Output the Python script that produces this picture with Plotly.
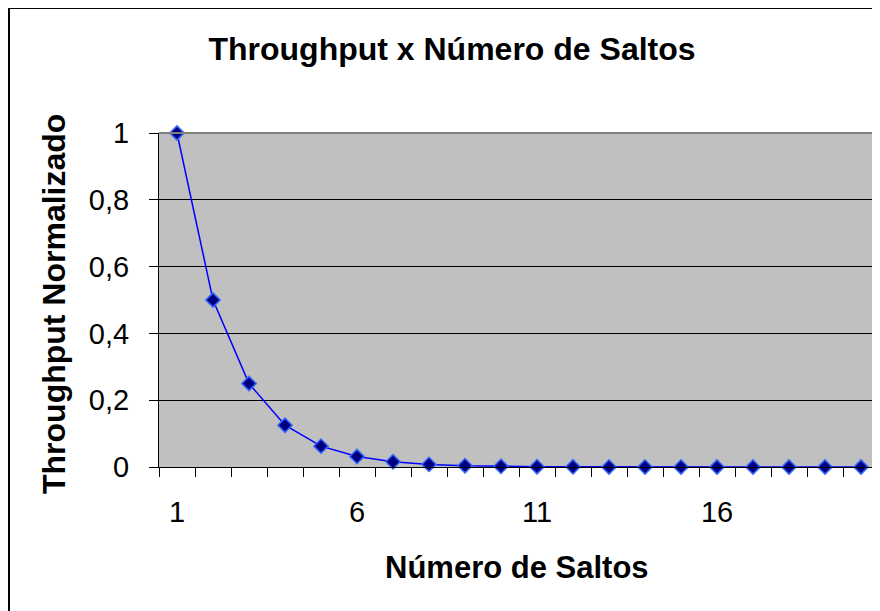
import plotly.graph_objects as go

# dados
saltos = list(range(1, 21))
throughput = [1.0, 0.5, 0.25, 0.125, 0.0625, 0.03125, 0.0156, 0.0078, 0.0039, 0.002,
              0.001, 0.0005, 0.0002, 0.0001, 0.0001, 0.0, 0.0, 0.0, 0.0, 0.0]
x_labels = [1, 6, 11, 16]
y_ticks = [0, 0.2, 0.4, 0.6, 0.8, 1]

# a página tem margem de 8px no body; coordenadas abaixo já descontam isso
W, H = 880, 611
ml, mr, mt, mb = 151, 9, 125, 152
pw, ph = W - ml - mr, H - mt - mb


def px_x(v):
    return (v - ml) / pw


def px_y(v):
    return (H - mb - v) / ph


font = "Liberation Sans, Arial, sans-serif"

fig = go.Figure()
fig.add_trace(go.Scatter(
    x=saltos, y=throughput, mode="lines+markers",
    line=dict(color="#0000FF", width=1.5),
    marker=dict(symbol="diamond", size=11, color="#000080",
                line=dict(color="#3366FF", width=1.5)),
    showlegend=False, cliponaxis=False,
))

bounds = [s - 0.5 for s in saltos] + [saltos[-1] + 0.5]

fig.update_layout(
    width=W, height=H,
    margin=dict(l=ml, r=mr, t=mt, b=mb, autoexpand=False),
    paper_bgcolor="white", plot_bgcolor="#C0C0C0",
    separators=",.",
    font=dict(family=font, color="black", size=29),
    title=dict(text="<b>Throughput x Número de Saltos</b>", font=dict(size=32),
               x=444 / W, xref="container", xanchor="center",
               y=1 - 41 / H, yref="container", yanchor="middle"),
    xaxis=dict(range=[0.5, 20.5], tickvals=x_labels, ticks="", showgrid=False,
               showline=True, linecolor="black", linewidth=1, zeroline=False,
               ticklabelstandoff=19, tickfont=dict(size=29),
               minor=dict(tickvals=bounds, ticks="outside", ticklen=9,
                          tickcolor="black", tickwidth=1, showgrid=False)),
    yaxis=dict(range=[0, 1], tickvals=y_ticks, ticks="outside", ticklen=9,
               tickcolor="black", showgrid=True, gridcolor="black", gridwidth=1,
               showline=True, linecolor="black", linewidth=1, zeroline=False,
               ticklabelstandoff=14, tickfont=dict(size=29)),
    annotations=[
        dict(text="<b>Número de Saltos</b>", xref="paper", yref="paper",
             x=px_x(509), y=px_y(559), showarrow=False, font=dict(size=31),
             xanchor="center", yanchor="middle"),
        dict(text="<b>Throughput Normalizado</b>", xref="paper", yref="paper",
             x=px_x(46), y=px_y(296), showarrow=False, font=dict(size=32),
             textangle=-90, xanchor="center", yanchor="middle"),
    ],
    shapes=[
        # borda do plot (topo e direita)
        dict(type="line", xref="paper", yref="paper", x0=0, x1=1, y0=1, y1=1,
             line=dict(color="#808080", width=2)),
        dict(type="line", xref="paper", yref="paper", x0=1, x1=1, y0=0, y1=1,
             line=dict(color="#808080", width=2)),
        # moldura externa do gráfico
        dict(type="line", xref="paper", yref="paper", x0=px_x(1), x1=px_x(1),
             y0=px_y(0), y1=px_y(H), line=dict(color="black", width=2)),
        dict(type="line", xref="paper", yref="paper", x0=px_x(0), x1=px_x(W),
             y0=px_y(0), y1=px_y(0), line=dict(color="black", width=2)),
    ],
)

fig.write_html("out.html")
